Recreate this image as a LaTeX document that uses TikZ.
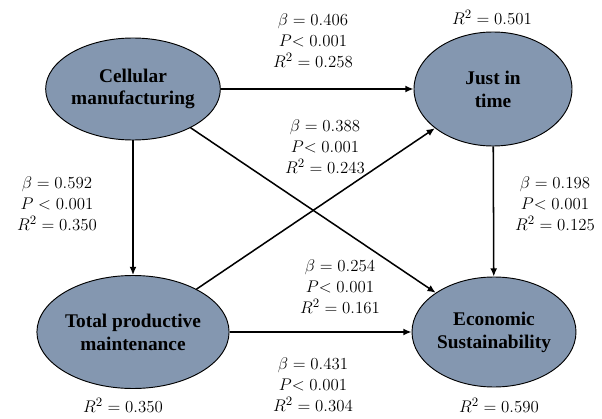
\documentclass[tikz,border=0pt]{standalone}
\usepackage{fontspec}
\setmainfont{Liberation Serif}
\usepackage{amsmath}
\usetikzlibrary{shapes.geometric, arrows.meta, positioning}
\definecolor{constructfill}{RGB}{132, 151, 176}
\tikzset{
  construct/.style = {ellipse, draw=black, thick, fill=constructfill, align=center, inner sep=0pt, font=\fontsize{16.5}{19.5}\selectfont\bfseries},
  link/.style      = {-{Latex[length=7pt, width=6pt]}, line width=1.3pt, black},
  stat/.style      = {align=center, inner sep=0pt, font=\fontsize{15}{18}\selectfont},
}
\begin{document}
\begin{tikzpicture}[x=0.03cm, y=-0.03cm]
\useasboundingbox (0,0) rectangle (602,419);

% constructs
\node[construct, minimum width=4.74cm, minimum height=3.06cm] (cm)  at (133,89)  {Cellular\\manufacturing};
\node[construct, minimum width=4.74cm, minimum height=3.42cm] (jit) at (493,89)  {Just in\\time};
\node[construct, minimum width=4.95cm, minimum height=3.39cm] (tpm) at (133,332) {Total productive\\maintenance};
\node[construct, minimum width=4.92cm, minimum height=3.30cm] (es)  at (494,332) {Economic\\Sustainability};

% paths
\draw[link] (cm.east) -- (jit.west);
\draw[link] (cm) -- (tpm);
\draw[link] (cm) -- (es);
\draw[link] (tpm) -- (jit);
\draw[link] (tpm.east) -- (es.west);
\draw[link] (jit) -- (es);

% path coefficients
\node[stat] (s406) at (313,41)  {$\beta = 0.406$\\$P{<}\;0.001$\\$R^2 = 0.258$};
\node[stat] (s388) at (325,147) {$\beta = 0.388$\\$P{<}\;0.001$\\$R^2 = 0.243$};
\node[stat] (s592) at (57,204)  {$\beta = 0.592$\\$P < 0.001$\\$R^2 = 0.350$};
\node[stat] (s198) at (555,204) {$\beta = 0.198$\\$P{<}\;0.001$\\$R^2 = 0.125$};
\node[stat] (s254) at (340,287) {$\beta = 0.254$\\$P{<}\;0.001$\\$R^2 = 0.161$};
\node[stat] (s431) at (313,385) {$\beta = 0.431$\\$P{<}\;0.001$\\$R^2 = 0.304$};

% explained variance
\node[stat] (r501) at (492,17)  {$R^2 = 0.501$};
\node[stat] (r350) at (123,405) {$R^2 = 0.350$};
\node[stat] (r590) at (499,405) {$R^2 = 0.590$};

\end{tikzpicture}
\end{document}
